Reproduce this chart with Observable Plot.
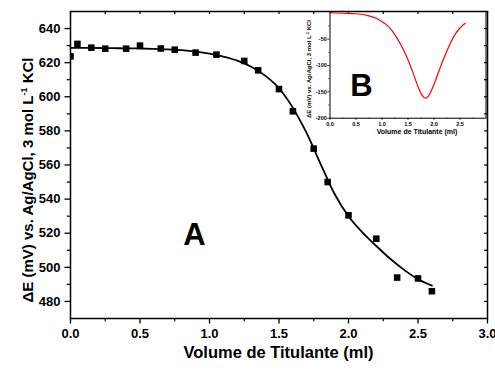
<!DOCTYPE html>
<html><head><meta charset="utf-8">
<script src="https://cdn.jsdelivr.net/npm/d3@7"></script>
<script src="https://cdn.jsdelivr.net/npm/@observablehq/plot@0.6"></script>
<style>
body{margin:0;background:#fff;}
#wrap{position:relative;width:495px;height:369px;overflow:hidden;}
#inset{position:absolute;left:300px;top:0;}
svg text{font-family:"Liberation Sans",Arial,sans-serif;font-weight:bold;}
</style></head><body><div id="wrap"><div id="main"></div><div id="inset"></div></div>
<script>
// Measured titration points (A)
const volume    = [0.0, 0.05, 0.15, 0.25, 0.4, 0.5, 0.65, 0.75, 0.9, 1.05, 1.25, 1.35, 1.5, 1.6, 1.75, 1.85, 2.0, 2.2, 2.35, 2.5, 2.6];
const potential = [623.7, 631.0, 628.8, 628.2, 628.2, 630.0, 628.3, 627.6, 625.9, 624.7, 621.0, 615.5, 604.5, 591.5, 569.6, 550.0, 530.5, 516.8, 494.0, 493.5, 486.0];
// Fitted curve (A)
const fitVolume    = [0.0, 0.1, 0.2, 0.3, 0.4, 0.5, 0.6, 0.7, 0.8, 0.9, 1.0, 1.1, 1.2, 1.3, 1.4, 1.5, 1.6, 1.7, 1.8, 1.9, 2.0, 2.1, 2.2, 2.3, 2.4, 2.5, 2.6];
const fitPotential = [628.7, 628.7, 628.6, 628.5, 628.4, 628.3, 628.1, 627.8, 627.3, 626.5, 625.3, 623.6, 621.2, 617.6, 612.4, 605.0, 593.5, 578.5, 560.5, 543.0, 530.0, 520.5, 512.5, 505.0, 498.5, 493.0, 489.3];
// First derivative curve (B)
const derivVolume = [0.0, 0.25, 0.5, 0.75, 0.9, 1.0, 1.1, 1.2, 1.3, 1.4, 1.5, 1.6, 1.7, 1.75, 1.8, 1.84, 1.9, 2.0, 2.1, 2.2, 2.3, 2.4, 2.5, 2.6];
const derivValue  = [0, -1, -2, -6, -11, -17, -24, -35, -50, -68, -89, -115, -142, -153, -160, -162, -157, -136, -109, -84, -61, -42, -29, -20];

// Tick values
const xTicks = [0, 0.5, 1.0, 1.5, 2.0, 2.5, 3.0];
const xMinor = [0.25, 0.75, 1.25, 1.75, 2.25, 2.75];
const yTicks = [480, 500, 520, 540, 560, 580, 600, 620, 640];
const yMinor = [490, 510, 530, 550, 570, 590, 610, 630];
const insetXTicks = [0, 0.5, 1.0, 1.5, 2.0, 2.5];
const insetXMinor = [0.25, 0.75, 1.25, 1.75, 2.25, 2.75];
const insetYTicks = [-50, -100, -150, -200];
const insetYMinor = [-25, -75, -125, -175];

const xLabel = "Volume de Titulante (ml)";
const yLabelMain = "ΔE (mV) vs. Ag/AgCl, 3 mol L";
const yLabelSup = "-1";
const yLabelEnd = " KCl";

const points = volume.map((v, i) => ({v, e: potential[i]}));
const fit = fitVolume.map((v, i) => ({v, e: fitPotential[i]}));
const deriv = derivVolume.map((v, i) => ({v, d: derivValue[i]}));

const W = 495, H = 369, mL = 70, mR = 8, mT = 11, mB = 51;
const innerW = W - mL - mR, innerH = H - mT - mB;

const main = Plot.plot({
  width: W, height: H,
  marginLeft: mL, marginRight: mR, marginTop: mT, marginBottom: mB,
  style: {background: "white", fontFamily: "Liberation Sans, Arial, sans-serif", fontWeight: "bold", color: "black"},
  x: {domain: [0, 3]},
  y: {domain: [470, 650]},
  marks: [
    Plot.axisX({ticks: xTicks, tickFormat: d => d.toFixed(1), tickSize: 5.5, tickPadding: 4.5, fontSize: 13, label: null, strokeWidth: 1.3}),
    Plot.axisY({ticks: yTicks, tickFormat: d => String(d), tickSize: 5.5, tickPadding: 4.5, fontSize: 13, label: null, strokeWidth: 1.3}),
    Plot.tickX(xMinor, {x: d => d, insetTop: innerH, insetBottom: -3.3, strokeWidth: 1.2}),
    Plot.tickY(yMinor, {y: d => d, insetRight: innerW, insetLeft: -3.3, strokeWidth: 1.2}),
    Plot.tickX(xTicks.concat(xMinor), {x: d => d, insetBottom: innerH - 3, strokeWidth: 1.2}),
    Plot.tickY(yTicks.concat(yMinor), {y: d => d, insetLeft: innerW - 3, strokeWidth: 1.2}),
    Plot.line(fit, {x: "v", y: "e", stroke: "black", strokeWidth: 1.8, curve: "monotone-x"}),
    Plot.dot(points, {x: "v", y: "e", symbol: "square", r: 3.7, fill: "black", stroke: "none", clip: true}),
    Plot.frame({stroke: "black", strokeWidth: 1.5}),
    Plot.text(["A"], {frameAnchor: "top-left", dx: 124, dy: 223.7, text: d => d, fontSize: 31, fontWeight: "bold", textAnchor: "middle", lineAnchor: "middle", fill: "black"})
  ]
});
document.getElementById("main").appendChild(main);

const ms = d3.select(main);
ms.append("text").attr("x", mL + innerW / 2).attr("y", 358.3).attr("text-anchor", "middle")
  .attr("font-size", 16.5).attr("fill", "black").text(xLabel);
const yl = ms.append("text").attr("transform", "translate(32.5,180) rotate(-90)").attr("text-anchor", "middle")
  .attr("font-size", 15).attr("fill", "black");
yl.append("tspan").text(yLabelMain);
yl.append("tspan").attr("font-size", 9).attr("dy", -6).text(yLabelSup);
yl.append("tspan").attr("dy", 6).text(yLabelEnd);

// Inset (B)
const iW = 195, iH = 140, imL = 29.5, imR = 9.5, imT = 11, imB = 22.3;
const iInnerW = iW - imL - imR, iInnerH = iH - imT - imB;
const inset = Plot.plot({
  width: iW, height: iH,
  marginLeft: imL, marginRight: imR, marginTop: imT, marginBottom: imB,
  style: {background: "transparent", fontFamily: "Liberation Sans, Arial, sans-serif", fontWeight: "bold", color: "black", overflow: "visible"},
  x: {domain: [0, 3]},
  y: {domain: [-200, 2.3]},
  marks: [
    Plot.axisX({ticks: insetXTicks, tickFormat: d => d.toFixed(1), tickSize: 2.2, tickPadding: 1.5, fontSize: 5.5, label: null, strokeWidth: 0.8}),
    Plot.axisY({ticks: insetYTicks, tickFormat: d => String(d), tickSize: 2.2, tickPadding: 1, fontSize: 5.5, label: null, strokeWidth: 0.8}),
    Plot.tickX(insetXMinor, {x: d => d, insetTop: iInnerH, insetBottom: -1.3, strokeWidth: 0.7}),
    Plot.tickY(insetYMinor, {y: d => d, insetRight: iInnerW, insetLeft: -1.3, strokeWidth: 0.7}),
    Plot.line(deriv, {x: "v", y: "d", stroke: "#ff0000", strokeWidth: 1.2, curve: "monotone-x"}),
    Plot.frame({stroke: "black", strokeWidth: 1}),
    Plot.text(["B"], {frameAnchor: "top-left", dx: 31.5, dy: 74.5, text: d => d, fontSize: 31, fontWeight: "bold", textAnchor: "middle", lineAnchor: "middle", fill: "black"})
  ]
});
document.getElementById("inset").appendChild(inset);
const is = d3.select(inset);
is.append("text").attr("x", 117).attr("y", 134).attr("text-anchor", "middle")
  .attr("font-size", 7).attr("fill", "black").text(xLabel);
const iyl = is.append("text").attr("transform", "translate(11,69) rotate(-90)").attr("text-anchor", "middle")
  .attr("font-size", 6).attr("fill", "black");
iyl.append("tspan").text(yLabelMain);
iyl.append("tspan").attr("font-size", 3.6).attr("dy", -2.4).text(yLabelSup);
iyl.append("tspan").attr("dy", 2.4).text(yLabelEnd);
</script></body></html>
